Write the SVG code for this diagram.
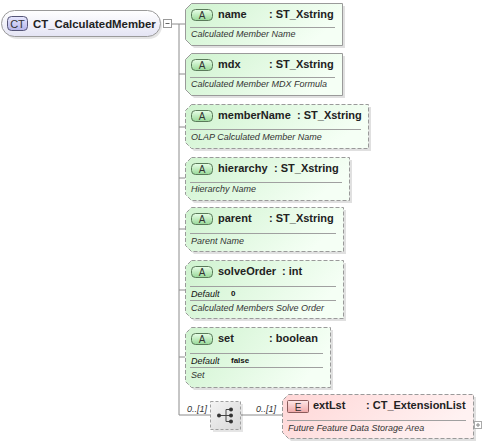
<svg xmlns="http://www.w3.org/2000/svg" width="483" height="444" viewBox="0 0 483 444">
<defs>
<linearGradient id="gA" x1="0" y1="0" x2="1" y2="0.3"><stop offset="0" stop-color="#cff3cf"/><stop offset="1" stop-color="#f5fff5"/></linearGradient>
<linearGradient id="gBadgeA" x1="0" y1="0" x2="0" y2="1"><stop offset="0" stop-color="#e8ffe8"/><stop offset="1" stop-color="#98d898"/></linearGradient>
<linearGradient id="gE" x1="0" y1="0" x2="1" y2="0.3"><stop offset="0" stop-color="#ffd6d6"/><stop offset="1" stop-color="#fff2f2"/></linearGradient>
<linearGradient id="gBadgeE" x1="0" y1="0" x2="0" y2="1"><stop offset="0" stop-color="#ffe8e8"/><stop offset="1" stop-color="#f0a8a8"/></linearGradient>
<linearGradient id="gCT" x1="0" y1="0" x2="0" y2="1"><stop offset="0" stop-color="#ffffff"/><stop offset="1" stop-color="#e4e4f4"/></linearGradient>
<linearGradient id="gBadgeCT" x1="0" y1="0" x2="0" y2="1"><stop offset="0" stop-color="#e8e8ff"/><stop offset="1" stop-color="#b4b4e8"/></linearGradient>
<linearGradient id="gSeq" x1="0" y1="0" x2="1" y2="1"><stop offset="0" stop-color="#f4f4f4"/><stop offset="1" stop-color="#d8d8d8"/></linearGradient>
</defs>
<style>
.box{stroke:#9a9a9a;stroke-width:1}
.opt{stroke-dasharray:4,2}
.shadow{fill:#000;opacity:0.12}
.sep{stroke:#a0a0a0;stroke-width:1}
.ttl{font-family:"Liberation Sans",Arial,sans-serif;font-size:11px;font-weight:bold;fill:#222}
.desc{font-family:"Liberation Sans",Arial,sans-serif;font-size:9px;font-style:italic;fill:#333}
.dval{font-family:"Liberation Sans",Arial,sans-serif;font-size:8px;font-weight:bold;fill:#111}
.bdgA{fill:url(#gBadgeA);stroke:#5a7a5a;stroke-width:1}
.bdgE{fill:url(#gBadgeE);stroke:#8a5a5a;stroke-width:1}
.btx{font-family:"Liberation Sans",Arial,sans-serif;font-size:10px;fill:#333;text-anchor:middle}
.conn{stroke:#8c8c8c;stroke-width:1;fill:none}
.card{font-family:"Liberation Sans",Arial,sans-serif;font-size:9px;font-style:italic;fill:#333}
</style>

<g id="connectors">
<path class="conn" d="M172,24 H179 V415 M179,24 H185 M179,74 H185 M179,127 H185 M179,178 H185 M179,229 H185 M179,290 H185 M179,357 H185 M179,415 H211 M241,415 H282"/>
</g>

<g id="CT_CalculatedMember">
<rect x="4" y="13" width="158" height="26" rx="13" fill="#000" opacity="0.1"/>
<rect x="1.5" y="10.5" width="159" height="26" rx="13" fill="url(#gCT)" stroke="#9a9a9a"/>
<rect x="7.5" y="16.5" width="20" height="14" rx="4" fill="url(#gBadgeCT)" stroke="#555577"/>
<text x="17.5" y="27.5" class="btx" style="font-size:11px">CT</text>
<text x="33" y="28" class="ttl" style="font-size:11.4px">CT_CalculatedMember</text>
<rect x="163.5" y="19.5" width="8" height="8" fill="#fff" stroke="#999"/>
<path d="M165.5,23.5 H169.5" stroke="#666"/>
</g>

<g id="name">
<path class="shadow" d="M194,6 H345 V48 H194 L188,42 V12 Z"/>
<path class="box" fill="url(#gA)" d="M191.5,3.5 H342.5 V45.5 H191.5 L185.5,39.5 V9.5 Z"/>
<rect class="bdgA" x="191.5" y="9.5" width="21" height="11" rx="4"/>
<text x="202" y="19" class="btx">A</text>
<text x="218" y="18" class="ttl">name</text><text x="269" y="18" class="ttl">: ST_Xstring</text>
<path class="sep" d="M190,27.5 H335"/>
<text x="191" y="37" class="desc">Calculated Member Name</text>
</g>

<g id="mdx">
<path class="shadow" d="M194,56 H345 V98 H194 L188,92 V62 Z"/>
<path class="box" fill="url(#gA)" d="M191.5,53.5 H342.5 V95.5 H191.5 L185.5,89.5 V59.5 Z"/>
<rect class="bdgA" x="191.5" y="59.5" width="21" height="11" rx="4"/>
<text x="202" y="69" class="btx">A</text>
<text x="218" y="68" class="ttl">mdx</text><text x="269" y="68" class="ttl">: ST_Xstring</text>
<path class="sep" d="M190,77.5 H335"/>
<text x="191" y="87" class="desc">Calculated Member MDX Formula</text>
</g>

<g id="memberName">
<path class="shadow" d="M194,107 H371 V151 H194 L188,145 V113 Z"/>
<path class="box opt" fill="url(#gA)" d="M191.5,104.5 H368.5 V148.5 H191.5 L185.5,142.5 V110.5 Z"/>
<rect class="bdgA" x="191.5" y="110.5" width="21" height="11" rx="4"/>
<text x="202" y="120" class="btx">A</text>
<text x="218" y="119" class="ttl">memberName</text><text x="297" y="119" class="ttl">: ST_Xstring</text>
<path class="sep" d="M190,129.5 H361"/>
<text x="191" y="140" class="desc">OLAP Calculated Member Name</text>
</g>

<g id="hierarchy">
<path class="shadow" d="M194,160 H352 V203 H194 L188,197 V166 Z"/>
<path class="box opt" fill="url(#gA)" d="M191.5,157.5 H349.5 V200.5 H191.5 L185.5,194.5 V163.5 Z"/>
<rect class="bdgA" x="191.5" y="163.5" width="21" height="11" rx="4"/>
<text x="202" y="173" class="btx">A</text>
<text x="218" y="172" class="ttl">hierarchy</text><text x="274" y="172" class="ttl">: ST_Xstring</text>
<path class="sep" d="M190,182.5 H342"/>
<text x="191" y="192" class="desc">Hierarchy Name</text>
</g>

<g id="parent">
<path class="shadow" d="M194,210 H346 V254 H194 L188,248 V216 Z"/>
<path class="box opt" fill="url(#gA)" d="M191.5,207.5 H343.5 V251.5 H191.5 L185.5,245.5 V213.5 Z"/>
<rect class="bdgA" x="191.5" y="213.5" width="21" height="11" rx="4"/>
<text x="202" y="223" class="btx">A</text>
<text x="218" y="222" class="ttl">parent</text><text x="269" y="222" class="ttl">: ST_Xstring</text>
<path class="sep" d="M190,233.5 H336"/>
<text x="191" y="244" class="desc">Parent Name</text>
</g>

<g id="solveOrder">
<path class="shadow" d="M194,263 H346 V321 H194 L188,315 V269 Z"/>
<path class="box opt" fill="url(#gA)" d="M191.5,260.5 H343.5 V318.5 H191.5 L185.5,312.5 V266.5 Z"/>
<rect class="bdgA" x="191.5" y="266.5" width="21" height="11" rx="4"/>
<text x="202" y="276" class="btx">A</text>
<text x="218" y="275" class="ttl">solveOrder</text><text x="282" y="275" class="ttl">: int</text>
<path class="sep" d="M190,286.5 H336"/>
<text x="191" y="297" class="desc" style="fill:#111">Default</text><text x="231" y="296" class="dval">0</text>
<path class="sep" d="M190,300.5 H336"/>
<text x="191" y="311" class="desc">Calculated Members Solve Order</text>
</g>

<g id="set">
<path class="shadow" d="M194,330 H333 V390 H194 L188,384 V336 Z"/>
<path class="box opt" fill="url(#gA)" d="M191.5,327.5 H330.5 V387.5 H191.5 L185.5,381.5 V333.5 Z"/>
<rect class="bdgA" x="191.5" y="333.5" width="21" height="11" rx="4"/>
<text x="202" y="343" class="btx">A</text>
<text x="218" y="342" class="ttl">set</text><text x="269" y="342" class="ttl">: boolean</text>
<path class="sep" d="M190,353.5 H323"/>
<text x="191" y="364" class="desc" style="fill:#111">Default</text><text x="231" y="363" class="dval">false</text>
<path class="sep" d="M190,367.5 H323"/>
<text x="191" y="378" class="desc">Set</text>
</g>

<g id="sequence">
<text x="187" y="412" class="card">0..[1]</text>
<rect x="213" y="404" width="30" height="28" fill="#000" opacity="0.1"/>
<rect x="210.5" y="401.5" width="30" height="28" fill="url(#gSeq)" stroke="#a0a0a0" stroke-dasharray="3,2"/>
<path d="M219,415.5 H226 M226,409.5 V421.5 M226,409.5 H231 M226,415.5 H231 M226,421.5 H231" stroke="#444" stroke-width="1" fill="none"/>
<circle cx="219" cy="415.5" r="2" fill="#333"/>
<circle cx="231" cy="409.5" r="2" fill="#333"/>
<circle cx="231" cy="415.5" r="2" fill="#333"/>
<circle cx="231" cy="421.5" r="2" fill="#333"/>
</g>

<g id="extLst">
<text x="256" y="412" class="card">0..[1]</text>
<path class="shadow" d="M291,397 H476 V441 H291 L285,435 V403 Z"/>
<path class="box opt" fill="url(#gE)" d="M288.5,394.5 H473.5 V438.5 H288.5 L282.5,432.5 V400.5 Z"/>
<rect class="bdgE" x="287.5" y="400.5" width="21" height="12" rx="1"/>
<text x="298" y="410.5" class="btx">E</text>
<text x="313" y="409" class="ttl">extLst</text><text x="366" y="409" class="ttl">: CT_ExtensionList</text>
<path class="sep" d="M287,420.5 H466"/>
<text x="288" y="431" class="desc">Future Feature Data Storage Area</text>
<rect x="474.5" y="421.5" width="7" height="7" fill="#fff" stroke="#aaa"/>
<path d="M476,425 H480 M478,423 V427" stroke="#888"/>
</g>
</svg>
